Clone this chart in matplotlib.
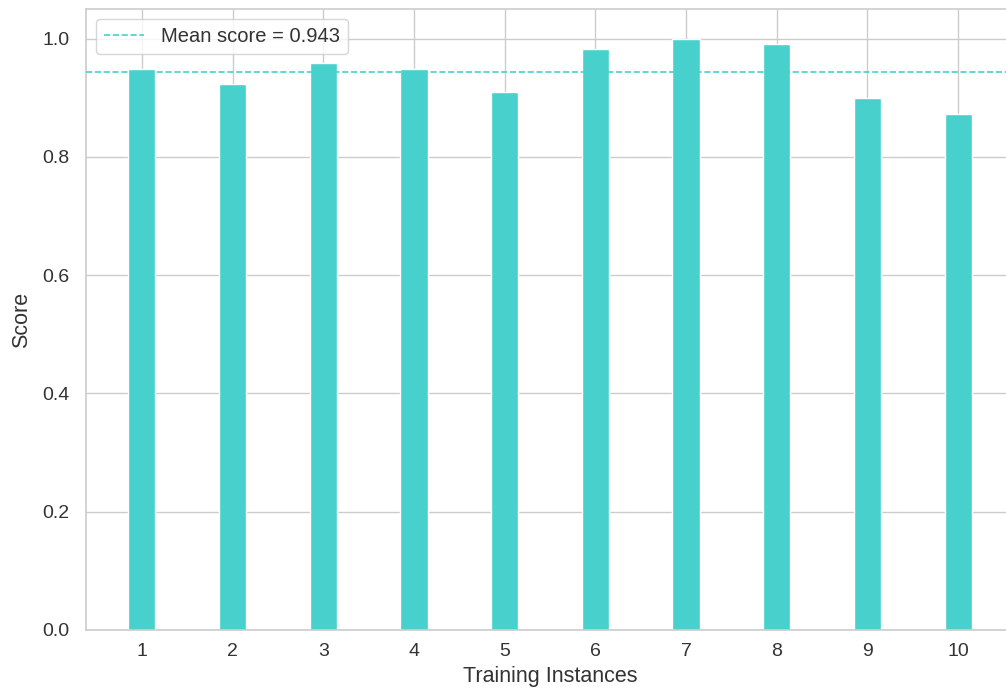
import matplotlib
matplotlib.use("Agg")
import matplotlib.pyplot as plt
import seaborn as sns
import numpy as np

instances = [1, 2, 3, 4, 5, 6, 7, 8, 9, 10]
scores = [0.948, 0.924, 0.959, 0.948, 0.910, 0.983, 1.000, 0.990, 0.899, 0.872]
xlabel = "Training Instances"
ylabel = "Score"

sns.set_style("whitegrid")
plt.rcParams['font.family'] = ['Liberation Sans', 'DejaVu Sans']

fig = plt.figure(figsize=(10.06, 6.95), dpi=100)
ax = fig.add_axes([86 / 1006, 65 / 695, 928 / 1006, 621 / 695])

color = "#48D1CC"
ax.bar(instances, scores, width=0.3, color=color, zorder=2)
mean = np.mean(scores)
ax.axhline(mean, color=color, linestyle="--", linewidth=1.2,
           label=f"Mean score = {mean:.3f}", zorder=3)

ax.set_xticks(instances)
ax.set_xticklabels([str(i) for i in instances])
ax.tick_params(axis="both", labelsize=14, colors="#333333", length=0)
ax.tick_params(axis="x", pad=9)
ax.tick_params(axis="y", pad=12)
ax.set_xlabel(xlabel, fontsize=15.5, color="#333333", labelpad=5)
ax.set_ylabel(ylabel, fontsize=15.5, color="#333333", labelpad=7)
ax.set_ylim(0, 1.05)
ax.set_yticks([0.0, 0.2, 0.4, 0.6, 0.8, 1.0])
ax.grid(True, color="#cccccc", linewidth=1.0)
ax.set_axisbelow(True)
for s in ax.spines.values():
    s.set_color("#cccccc")
    s.set_linewidth(1.2)

leg = ax.legend(loc="upper left", fontsize=14.5, frameon=True,
                borderaxespad=0.5)
leg.get_frame().set_edgecolor("#cccccc")
for t in leg.get_texts():
    t.set_color("#333333")

fig.savefig("out.png", dpi=100)
